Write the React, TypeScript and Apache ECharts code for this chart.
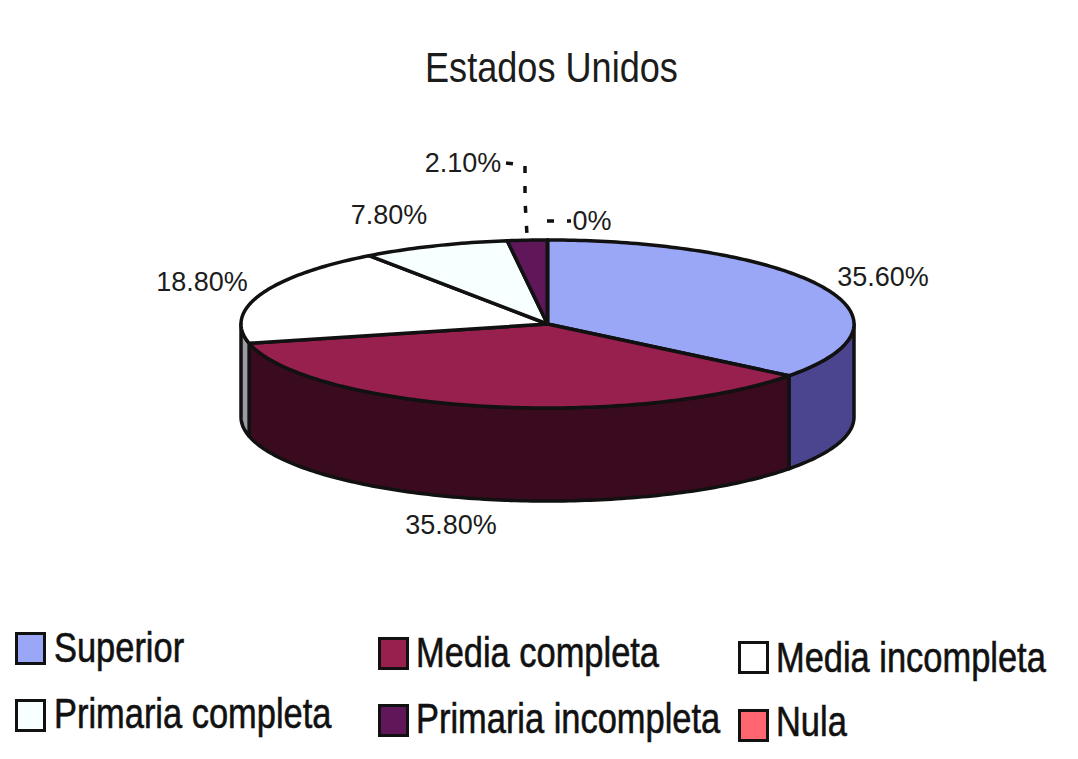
import React, { useEffect, useRef } from "react";
import * as echarts from "echarts";

const chartTitle = "Estados Unidos";
const categories = ["Superior", "Media completa", "Media incompleta", "Primaria completa", "Primaria incompleta", "Nula"];
const values = [35.6, 35.8, 18.8, 7.8, 2.1, 0];
const topColors = ["#9aa6f6", "#98204f", "#ffffff", "#f8ffff", "#5f1759", "#ff6670"];
const sideColors = ["#4b458f", "#3a0a1e", "#9c9aa2", "#8f9090", "#33102f", "#802f33"];
const labelTexts = ["35.60%", "35.80%", "18.80%", "7.80%", "2.10%", "0%"];
const labelAnchors = [[883, 277], [451, 525], [202, 282], [389, 215], [463, 163], [592, 221]];
const legendBoxes = [[15, 632], [378, 637], [738, 641], [15, 699], [378, 704], [738, 709]];
const legendTextAnchors = [[54, 647], [416, 652], [776, 657], [54, 713], [416, 718], [776, 721]];
const leaders: number[][][][] = [[], [], [], [], [[[506, 163], [525, 165], [525, 200], [527, 235]]], [[[547, 221], [571, 221]]]];

const CX = 547.5, CY = 324, RX = 306.5, RY = 84, DEPTH = 93;
const total = values.reduce((a, b) => a + b, 0);
const ink = "#111111";
const LEGEND_SQUEEZE = 0.82;
const TITLE_SQUEEZE = 0.86;

function rim(deg: number, dy = 0): number[] {
  const r = (deg * Math.PI) / 180;
  return [CX + RX * Math.sin(r), CY - RY * Math.cos(r) + dy];
}
function arc(a0: number, a1: number, dy = 0): number[][] {
  const out: number[][] = [];
  const n = Math.max(1, Math.ceil(Math.abs(a1 - a0)));
  for (let i = 0; i <= n; i++) out.push(rim(a0 + ((a1 - a0) * i) / n, dy));
  return out;
}

function makeSeries(index: number) {
  const start = values.slice(0, index).reduce((a, b) => a + b, 0);
  return {
    type: "custom",
    name: categories[index],
    coordinateSystem: "none",
    clip: false,
    silent: true,
    itemStyle: { color: topColors[index] },
    data: [[values[index]]],
    renderItem: (_: any, api: any) => {
      const a0 = (start / total) * 360;
      const a1 = a0 + (api.value(0) / total) * 360;
      const children: any[] = [];
      const s0 = Math.max(a0, 90), s1 = Math.min(a1, 270);
      if (s1 > s0) {
        children.push({
          type: "polygon",
          shape: { points: [...arc(s0, s1), ...arc(s1, s0, DEPTH)] },
          style: { fill: sideColors[index], stroke: ink, lineWidth: 3.5, lineJoin: "round" },
        });
      }
      children.push({
        type: "polygon",
        shape: { points: [[CX, CY], ...arc(a0, a1)] },
        style: { fill: topColors[index], stroke: ink, lineWidth: 3.5, lineJoin: "round" },
      });
      for (const pts of leaders[index]) {
        children.push({
          type: "polyline",
          shape: { points: pts },
          style: { fill: "none", stroke: ink, lineWidth: 3.5, lineDash: [7, 13] },
        });
      }
      children.push({
        type: "text",
        style: {
          x: labelAnchors[index][0],
          y: labelAnchors[index][1],
          text: labelTexts[index],
          align: "center",
          verticalAlign: "middle",
          fontFamily: "Liberation Sans",
          fontSize: 27,
          fill: "#1c1c1c",
        },
      });
      return { type: "group", children };
    },
  };
}

export default function App() {
  const ref = useRef<HTMLDivElement>(null);
  useEffect(() => {
    document.body.style.margin = "0";
    const chart = echarts.init(ref.current!, null, { renderer: "svg" });
    chart.setOption({
      animation: false,
      backgroundColor: "#ffffff",
      legend: categories.map((name, i) => ({
        left: legendBoxes[i][0],
        top: legendBoxes[i][1],
        padding: 0,
        itemWidth: 28,
        itemHeight: 30,
        itemGap: 0,
        selectedMode: false,
        formatter: () => "",
        data: [{ name, icon: "rect", itemStyle: { color: topColors[i], borderColor: ink, borderWidth: 3 } }],
      })),
      graphic: [
        {
          type: "text",
          x: 425,
          y: 68,
          scaleX: TITLE_SQUEEZE,
          style: { text: chartTitle, fontFamily: "Liberation Sans", fontSize: 42, fill: "#1c1c1c", align: "left", verticalAlign: "middle" },
        },
        ...categories.map((name, i) => ({
          type: "text",
          x: legendTextAnchors[i][0],
          y: legendTextAnchors[i][1],
          scaleX: LEGEND_SQUEEZE,
          style: { text: name, fontFamily: "Liberation Sans", fontSize: 42, fill: "#111111", stroke: "#111111", lineWidth: 0.6, align: "left", verticalAlign: "middle" },
        })),
      ],
      series: categories.map((_, i) => makeSeries(i)),
    });
    return () => chart.dispose();
  }, []);
  return <div ref={ref} style={{ width: 1078, height: 759 }} />;
}
